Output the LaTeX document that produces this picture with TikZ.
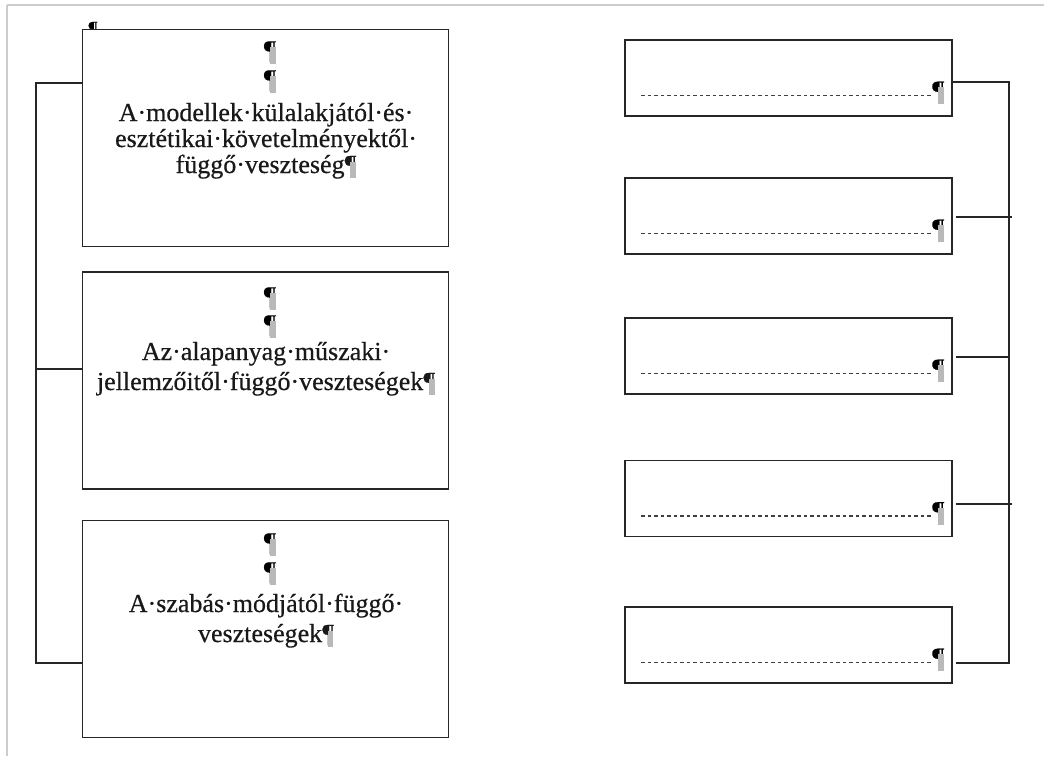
\documentclass[tikz,border=0pt]{standalone}
\usepackage{fontspec}
\setmainfont{Liberation Serif}
\newfontfamily\heavyserif[FakeBold=0.5]{Liberation Serif}
\newcommand\pil{¶\llap{\textcolor{gray!55}{\rule[-0.18em]{0.22em}{0.62em}}\hspace{0.02em}}}
\tikzset{
  frameline/.style={draw=gray!40,line width=1.6pt},
  lbox/.style={draw=black!85,line width=1.3pt,minimum width=366pt,minimum height=217pt,inner sep=0pt},
  rbox/.style={draw=black!85,line width=1.3pt,minimum width=327pt,minimum height=76pt,inner sep=0pt},
  conn/.style={draw=black!85,line width=1.3pt},
  dots/.style={draw=black!75,line width=1.6pt,dash pattern=on 3.5pt off 3pt},
  txt/.style={font=\heavyserif\fontsize{26}{28}\selectfont,anchor=base,inner sep=0pt,text=black!90},
  ptxt/.style={font=\heavyserif\fontsize{27}{28}\selectfont,anchor=base,inner sep=0pt}
}
\begin{document}
\begin{tikzpicture}[x=1pt,y=-1pt]
\useasboundingbox (0,0) rectangle (1044,756);
% window frame
\draw[frameline] (7,5) -- (1044,5);
\draw[frameline] (7,5) -- (7,756);
% small anchor mark
\node[font=\heavyserif\fontsize{20}{20}\selectfont,anchor=base,inner sep=0pt] (anc) at (93,35) {¶};
% left boxes
\node[lbox,fill=white] (L1) at (265.5,138) {};
\node[lbox] (L2) at (265.5,380.5) {};
\node[lbox] (L3) at (265.5,629) {};
% left texts
\node[ptxt] (p11) at (270,59) {\pil};
\node[ptxt] (p12) at (270,88) {\pil};
\node[txt] (t11) at (266,121) {A·modellek·külalakjától·és·};
\node[txt] (t12) at (266,147) {esztétikai·követelményektől·};
\node[txt] (t13) at (266,173) {függő·veszteség\pil};
\node[ptxt] (p21) at (270,305) {\pil};
\node[ptxt] (p22) at (270,333) {\pil};
\node[txt] (t21) at (266,360) {Az·alapanyag·műszaki·};
\node[txt] (t22) at (266,390) {jellemzőitől·függő·veszteségek\pil};
\node[ptxt] (p31) at (270,551) {\pil};
\node[ptxt] (p32) at (270,580) {\pil};
\node[txt] (t31) at (266,612) {A·szabás·módjától·függő·};
\node[txt] (t32) at (266,642) {veszteségek\pil};
% left bracket
\coordinate (la) at (36,83);
\coordinate (lb) at (36,369);
\coordinate (lc) at (36,663);
\draw[conn] (la -| L1.west) -- (la) -- (lc) -- (lc -| L3.west);
\draw[conn] (lb) -- (lb -| L2.west);
% right boxes
\node[rbox] (R1) at (788.5,78) {};
\node[rbox] (R2) at (788.5,216) {};
\node[rbox] (R3) at (788.5,356) {};
\node[rbox] (R4) at (788.5,498.5) {};
\node[rbox] (R5) at (788.5,645) {};
\foreach \i in {1,...,5}{
  \coordinate (d\i a) at ([xshift=17pt,yshift=-56pt]R\i.north west);
  \coordinate (d\i b) at ([xshift=308pt,yshift=-56pt]R\i.north west);
  \draw[dots] (d\i a) -- (d\i b);
  \node[ptxt] (rp\i) at ([xshift=314pt,yshift=-60pt]R\i.north west) {\pil};
}
% right bracket
\coordinate (ra) at (1009,82);
\coordinate (rb) at (1009,217);
\coordinate (rc) at (1009,357);
\coordinate (rd) at (1009,504);
\coordinate (re) at (1009,663);
\draw[conn] (ra -| R1.east) -- (ra) -- (re) -- ([xshift=3pt]re -| R5.east);
\draw[conn] ([xshift=3pt]rb -| R2.east) -- ([xshift=3pt]rb);
\draw[conn] ([xshift=3pt]rc -| R3.east) -- (rc);
\draw[conn] ([xshift=3pt]rd -| R4.east) -- ([xshift=3pt]rd);
\end{tikzpicture}
\end{document}
